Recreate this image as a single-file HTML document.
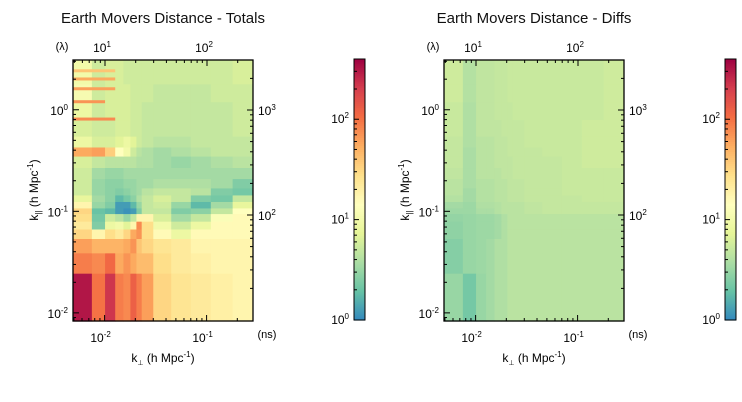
<!DOCTYPE html>
<html><head><meta charset="utf-8">
<style>
html,body{margin:0;padding:0;background:#fff;}
svg{display:block;font-family:"Liberation Sans",Arial,sans-serif;}
</style></head>
<body>
<svg id="chart" width="742" height="402" viewBox="0 0 742 402" xmlns="http://www.w3.org/2000/svg"></svg>
<script>
// ---- data ----
const kperpEdges = [0.0049,0.0075,0.0101,0.0127,0.0153,0.0179,0.0205,0.0231,0.03,0.045,0.07,0.11,0.18,0.28];
const kparEdges = [0.0083,0.0246,0.039,0.054,0.067,0.08,0.095,0.108,0.125,0.145,0.17,0.21,0.27,0.35,0.43,0.55,0.8,1.2,1.8,3.1];
// log10 EMD values, rows bottom -> top
const totalsLog = [
[2.5,2.0,2.35,1.95,1.9,2.1,1.95,1.8,1.5,1.4,1.35,1.3,1.25],
[1.95,1.9,2.05,1.75,1.85,1.75,1.65,1.65,1.45,1.35,1.3,1.25,1.25],
[1.8,1.7,1.7,1.7,1.75,1.85,1.6,1.5,1.4,1.35,1.25,1.25,1.25],
[1.5,1.25,1.45,1.35,1.5,1.75,1.85,1.45,1.2,0.95,1.2,1.2,1.2],
[1.35,0.4,0.95,1.0,0.85,1.25,1.9,1.45,1.0,0.75,0.95,1.2,1.2],
[1.45,0.35,0.75,0.65,0.5,0.7,1.25,1.25,0.8,0.55,0.7,1.1,1.2],
[1.5,0.3,0.25,0.1,0.05,0.1,0.4,0.7,0.7,0.4,0.45,0.7,1.15],
[1.25,0.5,0.4,0.1,0.1,0.25,0.5,0.7,0.75,0.5,0.25,0.55,0.9],
[0.9,0.55,0.45,0.25,0.35,0.45,0.6,0.7,0.8,0.7,0.4,0.35,0.7],
[0.75,0.5,0.45,0.4,0.45,0.5,0.55,0.65,0.7,0.7,0.65,0.4,0.35],
[0.75,0.5,0.45,0.45,0.5,0.5,0.55,0.55,0.6,0.6,0.6,0.55,0.4],
[0.75,0.55,0.5,0.5,0.55,0.55,0.55,0.55,0.55,0.55,0.55,0.55,0.55],
[0.8,0.7,0.65,0.65,0.65,0.65,0.6,0.6,0.55,0.5,0.55,0.6,0.65],
[1.75,1.8,1.55,1.15,1.0,0.75,0.65,0.6,0.55,0.6,0.65,0.7,0.7],
[0.95,0.8,0.8,0.85,0.95,0.85,0.75,0.7,0.65,0.65,0.7,0.7,0.7],
[0.8,0.75,0.75,0.8,0.8,0.75,0.75,0.7,0.7,0.7,0.7,0.7,0.75],
[0.95,0.75,0.8,0.8,0.8,0.75,0.75,0.7,0.7,0.7,0.7,0.7,0.75],
[1.05,0.75,0.8,0.8,0.8,0.75,0.75,0.75,0.7,0.7,0.7,0.75,0.75],
[1.0,0.75,0.8,0.8,0.75,0.75,0.75,0.75,0.75,0.75,0.75,0.75,0.8]
];
const diffsLog = [
[0.5,0.35,0.5,0.55,0.6,0.6,0.65,0.65,0.65,0.65,0.65,0.65,0.65],
[0.42,0.5,0.52,0.55,0.6,0.6,0.65,0.65,0.65,0.65,0.65,0.65,0.65],
[0.42,0.5,0.52,0.55,0.6,0.6,0.65,0.65,0.65,0.65,0.65,0.65,0.65],
[0.46,0.5,0.52,0.52,0.55,0.6,0.65,0.65,0.65,0.65,0.65,0.65,0.65],
[0.46,0.5,0.52,0.52,0.55,0.6,0.65,0.65,0.65,0.65,0.65,0.65,0.65],
[0.48,0.5,0.52,0.52,0.55,0.6,0.65,0.65,0.65,0.65,0.65,0.65,0.65],
[0.52,0.52,0.58,0.58,0.62,0.65,0.65,0.65,0.68,0.7,0.7,0.7,0.7],
[0.55,0.52,0.6,0.6,0.62,0.65,0.65,0.65,0.68,0.7,0.7,0.7,0.7],
[0.62,0.55,0.62,0.62,0.65,0.65,0.68,0.68,0.7,0.7,0.7,0.72,0.72],
[0.65,0.55,0.62,0.62,0.65,0.65,0.68,0.68,0.7,0.7,0.72,0.72,0.72],
[0.65,0.58,0.62,0.62,0.65,0.65,0.68,0.68,0.7,0.7,0.72,0.72,0.72],
[0.68,0.58,0.65,0.65,0.65,0.68,0.68,0.7,0.7,0.7,0.72,0.72,0.72],
[0.7,0.58,0.65,0.65,0.68,0.68,0.68,0.7,0.7,0.7,0.72,0.75,0.75],
[0.7,0.58,0.65,0.65,0.68,0.68,0.7,0.7,0.7,0.72,0.72,0.75,0.75],
[0.7,0.6,0.65,0.65,0.68,0.68,0.7,0.7,0.72,0.72,0.72,0.75,0.75],
[0.72,0.6,0.68,0.68,0.68,0.7,0.7,0.7,0.72,0.72,0.72,0.75,0.75],
[0.72,0.6,0.68,0.68,0.7,0.7,0.7,0.72,0.72,0.72,0.72,0.72,0.75],
[0.75,0.62,0.68,0.68,0.7,0.7,0.72,0.72,0.72,0.72,0.72,0.72,0.75],
[0.75,0.62,0.68,0.68,0.7,0.7,0.72,0.72,0.72,0.72,0.72,0.72,0.75]
];
// thin high-EMD stripes at low k_perp (totals panel)
const stripeKpar = [2.42,2.01,1.61,1.2,0.81];
const stripeLog = [1.6,1.75,1.8,1.85,1.9];
const stripeCols = [3,3,3,2,3];
const xTickExps = [-2,-1];
const yTickExps = [-2,-1,0];
const topTickExps = [1,2];
const rightTickExps = [2,3];
const cbarTickExps = [0,1,2];
const panelTitles = ["Earth Movers Distance - Totals","Earth Movers Distance - Diffs"];

// ---- drawing ----
const NS="http://www.w3.org/2000/svg";
const svg=document.getElementById('chart');
function mk(tag,attrs,parent){const e=document.createElementNS(NS,tag);for(const k in attrs)e.setAttribute(k,attrs[k]);(parent||svg).appendChild(e);return e;}
const stops=["#3288bd","#66c2a5","#abdda4","#e6f598","#ffffbf","#fee08b","#fdae61","#f46d43","#d53e4f","#9e0142"];
const cMin=0,cMax=2.6;
function hex(h){return [1,3,5].map(i=>parseInt(h.substr(i,2),16));}
function cmap(v){let t=(v-cMin)/(cMax-cMin);t=Math.max(0,Math.min(1,t))*(stops.length-1);const i=Math.min(stops.length-2,Math.floor(t));const f=t-i;const a=hex(stops[i]),b=hex(stops[i+1]);return 'rgb('+a.map((x,j)=>Math.round(x+(b[j]-x)*f)).join(',')+')';}

const L0=-2.31,L1=-0.545, Y0=-2.08, Y1=0.49;
function panel(ox,matrix,title,pi){
  const g=mk('g',{});
  
  
  const px0=ox+73,px1=ox+253,py0=60,py1=321;
  const xs=v=>px0+(Math.log10(v)-L0)/(L1-L0)*(px1-px0);
  const ys=v=>py1-(Math.log10(v)-Y0)/(Y1-Y0)*(py1-py0);
  const t=mk('text',{x:ox+163,y:23,'text-anchor':'middle','font-size':15,fill:'#111'},g);t.textContent=title;
  
  
  const cells=mk('g',{},g);
  
  
  for(let r=0;r<matrix.length;r++)for(let c=0;c<matrix[r].length;c++){
    const x0=xs(kperpEdges[c]),x1=xs(kperpEdges[c+1]),y0=ys(kparEdges[r+1]),y1=ys(kparEdges[r]);
    const rc=mk('rect',{x:x0,y:y0,width:x1-x0+0.5,height:y1-y0+0.5,fill:cmap(matrix[r][c])},cells);
    
    
  }
  if(pi===0){
    stripeKpar.forEach((k,i)=>{const y=ys(k);const x1=xs(kperpEdges[stripeCols[i]]);
      const s=mk('rect',{x:px0,y:y-1.5,width:x1-px0,height:3,fill:cmap(stripeLog[i])},cells);
      
      });
  }
  mk('rect',{x:px0,y:py0,width:px1-px0,height:py1-py0,fill:'none',stroke:'#000','stroke-width':1.3},g);
  for(let e=-3;e<=0;e++)for(let m=1;m<10;m++){const v=m*Math.pow(10,e);const x=xs(v);if(x<px0||x>px1)continue;const len=m==1?6:3;
    mk('line',{x1:x,y1:py1,x2:x,y2:py1-len,stroke:'#000'},g);}
  xTickExps.forEach(e=>{const x=xs(Math.pow(10,e));const tx=mk('text',{x:x-4,y:342,'text-anchor':'middle','font-size':12},g);tx.innerHTML='10<tspan dy="-5" font-size="8">'+e+'</tspan>';
    
    });
  topTickExps.forEach((e,i)=>{const x=px0+32+i*102;mk('line',{x1:x,y1:py0,x2:x,y2:py0+6,stroke:'#000'},g);
    const tx=mk('text',{x:x-3,y:52,'text-anchor':'middle','font-size':12},g);tx.innerHTML='10<tspan dy="-5" font-size="8">'+e+'</tspan>';
    
    });
  for(let k=2;k<10;k++){[0,1].forEach(i=>{const x=px0+32+i*102+Math.log10(k)*102;if(x<px1)mk('line',{x1:x,y1:py0,x2:x,y2:py0+3,stroke:'#000'},g);});}
  for(let k=5;k<10;k++){const x=px0+32-102+Math.log10(k)*102;if(x>px0)mk('line',{x1:x,y1:py0,x2:x,y2:py0+3,stroke:'#000'},g);}
  const lam=mk('text',{x:ox+62,y:50,'text-anchor':'middle','font-size':11},g);lam.textContent='(λ)';
  
  
  for(let e=-3;e<=0;e++)for(let m=1;m<10;m++){const v=m*Math.pow(10,e);const y=ys(v);if(y<py0||y>py1)continue;const len=m==1?6:3;
    mk('line',{x1:px0,y1:y,x2:px0+len,y2:y,stroke:'#000'},g);}
  yTickExps.forEach(e=>{const y=ys(Math.pow(10,e));const tx=mk('text',{x:px0-5,y:y+5,'text-anchor':'end','font-size':12},g);tx.innerHTML='10<tspan dy="-5" font-size="8">'+e+'</tspan>';
    
    });
  rightTickExps.forEach((e,i)=>{const y=215-i*105;mk('line',{x1:px1,y1:y,x2:px1-6,y2:y,stroke:'#000'},g);
    const tx=mk('text',{x:px1+5,y:y+5,'font-size':12},g);tx.innerHTML='10<tspan dy="-5" font-size="8">'+e+'</tspan>';
    
    });
  for(let k=2;k<10;k++){[215,110].forEach(b=>{const y=b-Math.log10(k)*105;if(y>py0)mk('line',{x1:px1,y1:y,x2:px1-3,y2:y,stroke:'#000'},g);});}
  for(let k=2;k<10;k++){const y=215+105-Math.log10(k)*105;if(y<py1)mk('line',{x1:px1,y1:y,x2:px1-3,y2:y,stroke:'#000'},g);}
  const ns=mk('text',{x:ox+267,y:338,'text-anchor':'middle','font-size':11},g);ns.textContent='(ns)';
  
  
  const xl=mk('text',{x:ox+163,y:362,'text-anchor':'middle','font-size':12},g);xl.innerHTML='k<tspan dy="3" font-size="7">⊥</tspan><tspan dy="-3"> (h Mpc</tspan><tspan dy="-5" font-size="8">-1</tspan><tspan dy="5">)</tspan>';
  
  
  const yl=mk('text',{x:0,y:0,'text-anchor':'middle','font-size':12,transform:'translate('+(ox+38)+',190) rotate(-90)'},g);yl.innerHTML='k<tspan dy="3" font-size="8">||</tspan><tspan dy="-3">  (h Mpc</tspan><tspan dy="-5" font-size="8">-1</tspan><tspan dy="5">)</tspan>';
  
  
  const cb=mk('g',{},g);
  
  
  const cx0=ox+354,cw=11,cy0=59,cy1=320;
  for(let i=0;i<130;i++){const v=cMin+(i+0.5)/130*(cMax-cMin);const y=cy1-(i+1)/130*(cy1-cy0);mk('rect',{x:cx0,y:y,width:cw,height:(cy1-cy0)/130+0.6,fill:cmap(v)},cb);}
  mk('rect',{x:cx0,y:cy0,width:cw,height:cy1-cy0,fill:'none',stroke:'#000','stroke-width':1},cb);
  const cys=v=>cy1-(v-cMin)/(cMax-cMin)*(cy1-cy0);
  for(let e=0;e<3;e++)for(let m=1;m<10;m++){const y=cys(e+Math.log10(m));if(y<cy0)continue;mk('line',{x1:cx0,y1:y,x2:cx0+(m==1?5:3),y2:y,stroke:'#000'},cb);}
  cbarTickExps.forEach(e=>{const tx=mk('text',{x:cx0-5,y:cys(e)+4,'text-anchor':'end','font-size':12},cb);tx.innerHTML='10<tspan dy="-5" font-size="8">'+e+'</tspan>';
    
    });
}
panel(0,totalsLog,panelTitles[0],0);
panel(371,diffsLog,panelTitles[1],1);
</script>
</body></html>
